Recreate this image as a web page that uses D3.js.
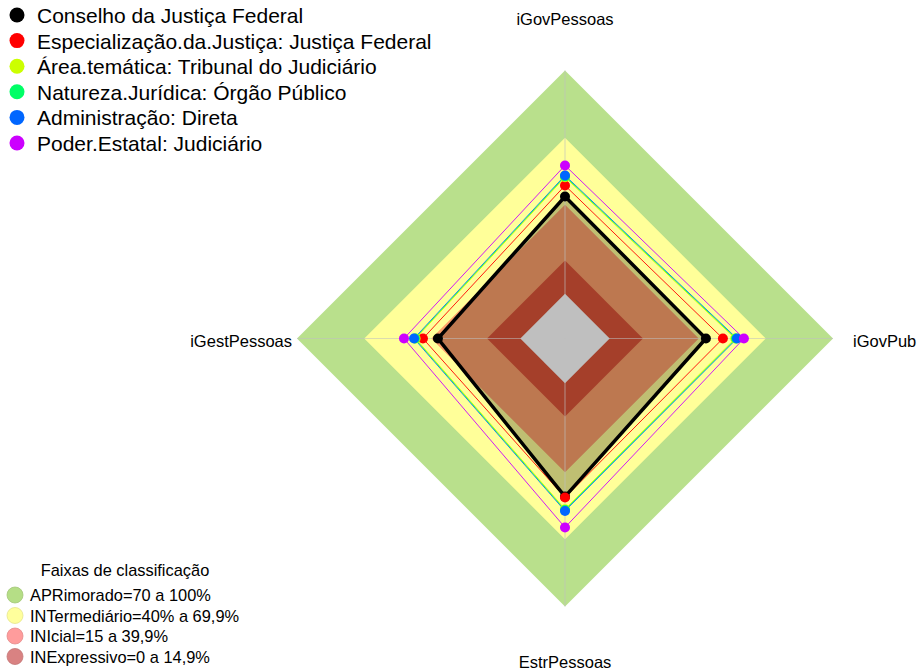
<!DOCTYPE html>
<html><head><meta charset="utf-8">
<script src="https://cdn.jsdelivr.net/npm/d3@7"></script>
<style>body{margin:0;background:#fff}svg{display:block}text{font-family:"Liberation Sans",Arial,sans-serif;fill:#000}</style>
</head><body>
<svg id="c" width="918" height="672"></svg>
<script>
const axes = ["iGovPessoas","iGovPub","EstrPessoas","iGestPessoas"];
const seriesNames = ["Conselho da Justiça Federal","Especialização.da.Justiça: Justiça Federal","Área.temática: Tribunal do Judiciário","Natureza.Jurídica: Órgão Público","Administração: Direta","Poder.Estatal: Judiciário"];
const seriesColors = ["#000000","#ff0000","#ccff00","#00ff66","#0066ff","#cc00ff"];
const conselho = [43.6, 43.1, 50.8, 36.9];
const especializacao = [48.5, 50.7, 51.2, 43.6];
const areaTematica = [52.2, 56.2, 56.4, 46.9];
const natureza = [52.6, 56.6, 56.8, 47.2];
const administracao = [53.0, 57.0, 57.2, 47.6];
const poderEstatal = [57.5, 60.1, 64.6, 52.1];
const seriesValues = [conselho, especializacao, areaTematica, natureza, administracao, poderEstatal];
const bandNames = ["APRimorado=70 a 100%","INTermediário=40% a 69,9%","INIcial=15 a 39,9%","INExpressivo=0 a 14,9%"];
const bandLimits = [100, 69.9, 39.9, 14.9];
const bandLegendColors = ["#b5de86","#ffff9c","#ff9c9c","#d98282"];

const svg = d3.select("#c");
const cx = 565, cy = 338.5, R = 268;
const r = d3.scaleLinear().domain([0,100]).range([R/6, R]);
const ang = d3.scalePoint().domain(axes).range([-Math.PI/2, Math.PI]);
const pt = (a, v) => [cx + r(v)*Math.cos(ang(a)), cy + r(v)*Math.sin(ang(a))];
const line = d3.line().curve(d3.curveLinearClosed);
const poly = vals => line(axes.map((a,i)=>pt(a, vals[i])));
const ring = v => poly(axes.map(()=>v));

const bandFill = ["#b9e08c","#ffff99","#fda06b","#dc5538"];
const g = svg.append("g");
bandLimits.forEach((v,i)=>g.append("path").attr("d", ring(v)).attr("fill", bandFill[i]));
g.append("path").attr("d", ring(0)).attr("fill", "#ffffff");
g.append("path").attr("d", poly(conselho)).attr("fill", "rgba(0,0,0,0.25)");
axes.forEach(a=>{
  const [x,y] = pt(a,100);
  g.append("line").attr("x1",cx).attr("y1",cy).attr("x2",x).attr("y2",y)
   .attr("stroke","#c0c0c0").attr("stroke-opacity",0.55).attr("stroke-width",1.2);
});
for (let s = seriesValues.length-1; s>=0; s--) {
  g.append("path").attr("d", poly(seriesValues[s])).attr("fill","none")
   .attr("stroke", seriesColors[s]).attr("stroke-width", s===0?3.5:0.9)
   .attr("stroke-linejoin","miter");
}
for (let s = 0; s<seriesValues.length; s++) {
  axes.forEach((a,i)=>{
    const [x,y] = pt(a, seriesValues[s][i]);
    g.append("circle").attr("cx",x).attr("cy",y).attr("r", 5).attr("fill", seriesColors[s]);
  });
}
const lab = svg.append("g").attr("font-size","16.5px");
lab.append("text").attr("x",565).attr("y",25).attr("text-anchor","middle").text(axes[0]);
lab.append("text").attr("x",853).attr("y",347).attr("text-anchor","start").text(axes[1]);
lab.append("text").attr("x",565).attr("y",668).attr("text-anchor","middle").text(axes[2]);
lab.append("text").attr("x",292).attr("y",347).attr("text-anchor","end").text(axes[3]);

const lg = svg.append("g");
seriesNames.forEach((n,i)=>{
  const y = 15 + i*25.6;
  lg.append("circle").attr("cx",17).attr("cy",y).attr("r",7.5).attr("fill",seriesColors[i]);
  lg.append("text").attr("x",37).attr("y",y+8).attr("font-size","21px").text(n);
});
const bl = svg.append("g").attr("font-size","16.4px");
bl.append("text").attr("x",125).attr("y",576).attr("text-anchor","middle").text("Faixas de classificação");
bandNames.forEach((n,i)=>{
  const y = 595 + i*20.5;
  bl.append("circle").attr("cx",15).attr("cy",y).attr("r",8).attr("fill",bandLegendColors[i])
    .attr("stroke", d3.color(bandLegendColors[i]).darker(0.3)).attr("stroke-width",0.8);
  bl.append("text").attr("x",30).attr("y",y+6).text(n);
});
</script>
</body></html>
